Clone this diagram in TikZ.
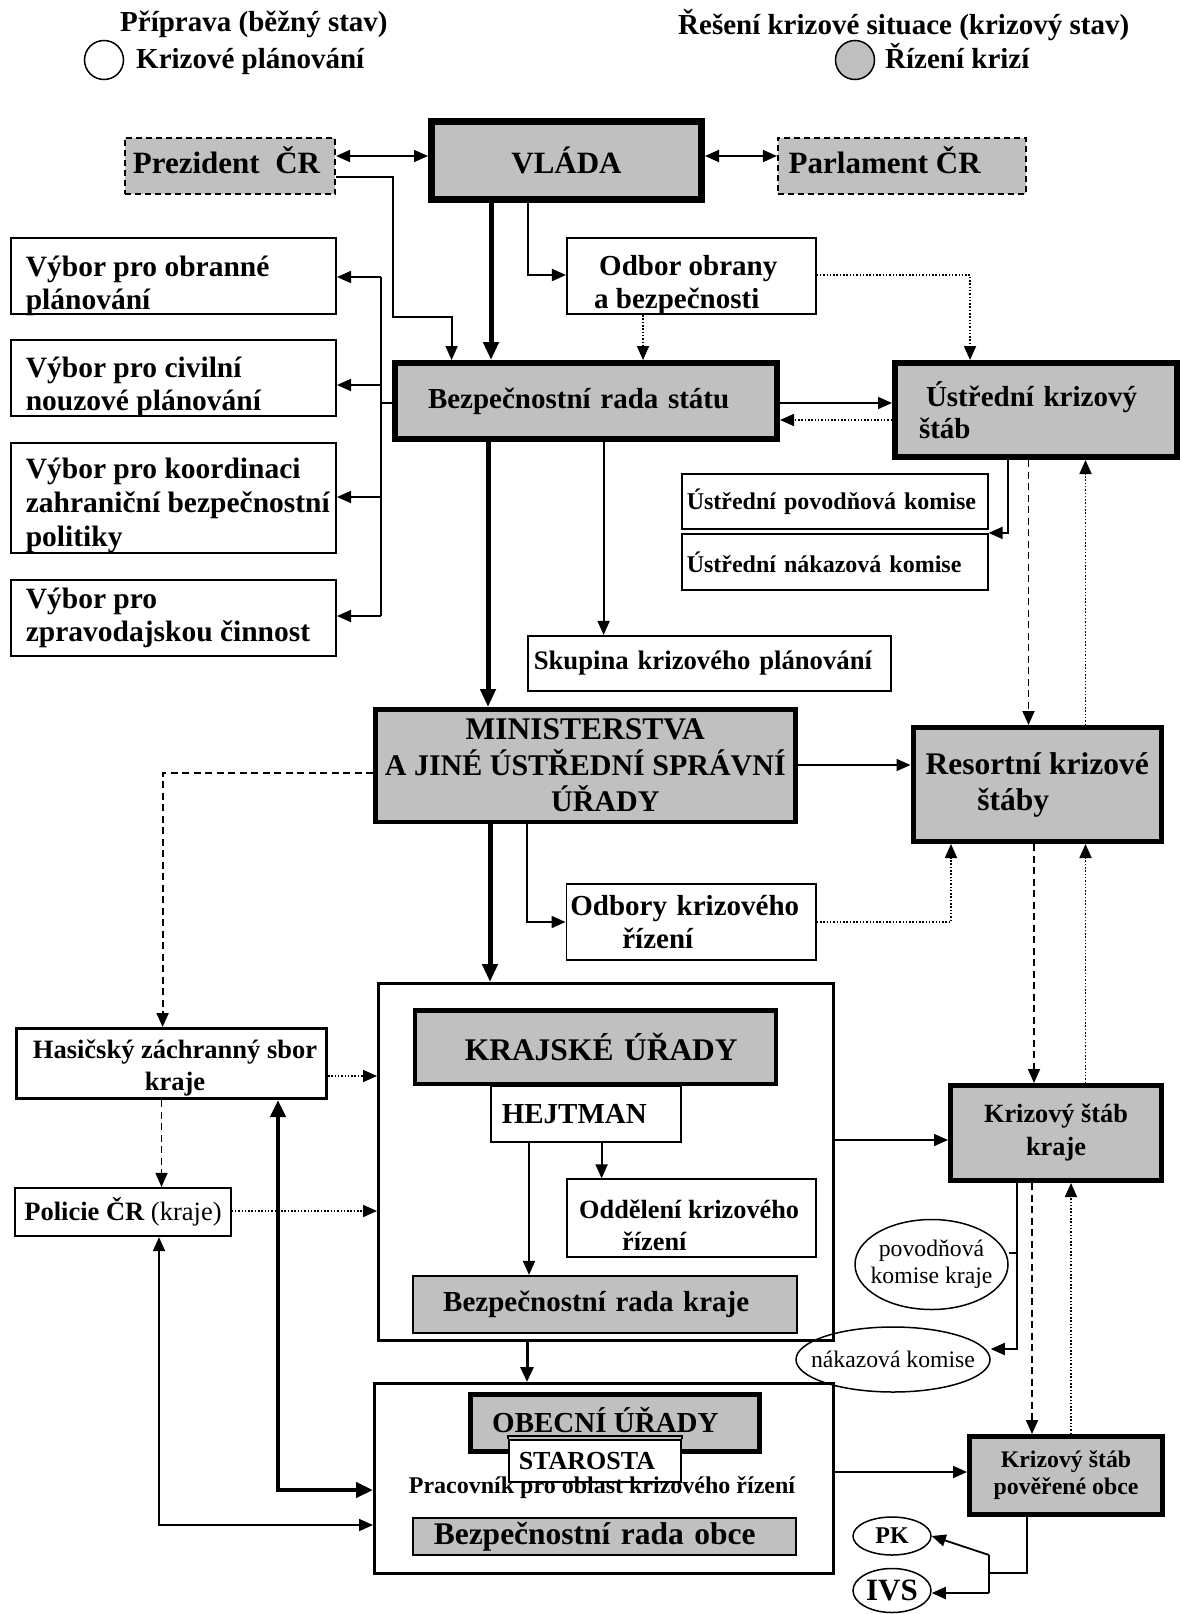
\documentclass[tikz,border=0pt]{standalone}
\usepackage{fontspec}
\setmainfont{Liberation Serif}
\usetikzlibrary{arrows.meta,shapes.geometric,calc}
\definecolor{boxgray}{RGB}{192,192,192}
\newcommand\fsz[2]{\fontsize{#1pt}{#2pt}\selectfont\bfseries}
\newcommand\fszr[2]{\fontsize{#1pt}{#2pt}\selectfont\mdseries}
\hyphenpenalty=10000
\exhyphenpenalty=10000
\tikzset{
  box/.style={draw, rectangle, inner xsep=0pt, inner ysep=0pt, line width=1.7pt, fill=white},
  gbox/.style={box, fill=boxgray},
  dashbox/.style={dash pattern=on 6pt off 4pt},
  txt/.style={inner sep=0pt},
  ell/.style={draw, ellipse, line width=1.5pt, inner xsep=-20pt, inner ysep=0pt, align=center},
  ln/.style={line width=1.8pt},
  conn/.style={line width=1.8pt, -{Triangle[length=14pt,width=12pt]}},
  conn2/.style={line width=1.8pt, {Triangle[length=14pt,width=12pt]}-{Triangle[length=14pt,width=12pt]}},
  thk/.style={line width=5pt, -{Triangle[length=18pt,width=15pt]}},
  thkboth/.style={line width=4.5pt, {Triangle[length=17pt,width=15pt]}-{Triangle[length=17pt,width=15pt]}},
  thkmid/.style={line width=3pt, -{Triangle[length=15pt,width=13pt]}},
  dashln/.style={dash pattern=on 7pt off 4.5pt},
  dotln/.style={dash pattern=on 1.5pt off 1.8pt},
  hdr/.style={anchor=base west, inner sep=0pt, font=\fsz{29}{34}}
}
\begin{document}
\begin{tikzpicture}[x=1pt,y=-1pt]
\useasboundingbox (0,0) rectangle (1181,1614);
\fill[white] (0,0) rectangle (1181,1614);

% ---------- header ----------
\node[hdr] (hA) at (120,31) {Příprava (běžný stav)};
\node[draw, circle, line width=1.5pt, minimum size=39pt, inner sep=0pt] (cA) at (104,60) {};
\node[hdr] (hB) at (136,68) {Krizové plánování};
\node[hdr] (hC) at (678,34) {Řešení krizové situace (krizový stav)};
\node[draw, circle, fill=boxgray, line width=1.5pt, minimum size=39pt, inner sep=0pt] (cB) at (855,60) {};
\node[hdr] (hD) at (885,68) {Řízení krizí};

% ---------- top level ----------
\node[gbox, dashbox, minimum width=210.5pt, minimum height=56.5pt] (prez) at (230,166) {};
\node[txt, font=\fsz{31}{36}] (prezT) at (226.5,160) {Prezident\ \ ČR};
\node[gbox, line width=7pt, minimum width=270pt, minimum height=78pt, font=\fsz{31}{36}] (vlada) at (566.5,160.5) {VLÁDA};
\node[gbox, dashbox, minimum width=248pt, minimum height=56.5pt] (parl) at (901.75,166) {};
\node[txt, anchor=west, font=\fsz{31}{36}] (parlT) at (788.5,160) {Parlament ČR};

% ---------- committees ----------
\node[box, line width=2pt, minimum width=325.4pt, minimum height=76pt] (vyb1) at (173.3,276) {};
\node[txt, anchor=west, align=left, font=\fsz{29.5}{33.5}] (vyb1T) at (25.6,286) {Výbor pro obranné\\plánování};
\node[box, line width=2pt, minimum width=325.4pt, minimum height=76pt] (vyb2) at (173.3,378) {};
\node[txt, anchor=west, align=left, font=\fsz{29.5}{33.5}] (vyb2T) at (25.6,387) {Výbor pro civilní\\nouzové plánování};
\node[box, line width=2pt, minimum width=325.4pt, minimum height=110pt] (vyb3) at (173.3,498) {};
\node[txt, anchor=west, align=left, font=\fsz{29.5}{34}] (vyb3T) at (25.6,505) {Výbor pro koordinaci\\zahraniční bezpečnostní\\politiky};
\node[box, line width=2pt, minimum width=325.4pt, minimum height=76pt] (vyb4) at (173.3,618) {};
\node[txt, anchor=west, align=left, font=\fsz{29.5}{33.5}] (vyb4T) at (25.6,618) {Výbor pro\\zpravodajskou činnost};

\node[box, minimum width=249pt, minimum height=76.5pt] (odbor) at (691.3,276) {};
\node[txt, anchor=west, align=left, font=\fsz{29}{33}] (odborT) at (594,285) {\rule{5pt}{0pt}Odbor obrany\\a bezpečnosti};
\node[gbox, line width=6pt, minimum width=382pt, minimum height=76pt, text width=316pt, align=left, font=\fsz{29}{34}] (brs) at (586,401) {Bezpečnostní rada státu};
\node[gbox, line width=6pt, minimum width=282pt, minimum height=94pt, text width=220pt, align=left, font=\fsz{29}{32}] (uks) at (1036,410) {Ústřední krizový\\\hspace*{-7pt}štáb};
\node[box, minimum width=306pt, minimum height=55.5pt, text width=296pt, align=left, font=\fsz{24}{28}] (upk) at (834.75,501.5) {Ústřední povodňová komise};
\node[box, minimum width=306pt, minimum height=56.5pt, text width=296pt, align=left, font=\fsz{24}{28}] (unk) at (834.75,562) {Ústřední nákazová komise};
\node[box, minimum width=363.5pt, minimum height=55.5pt, text width=351.5pt, align=left, font=\fsz{26.7}{31}] (skup) at (709.5,663.5) {Skupina krizového plánování};

% ---------- ministries ----------
\node[gbox, line width=4.5pt, minimum width=420pt, minimum height=112.5pt, align=center, font=\fsz{30}{36}] (minis) at (585.3,765.5) {{\fontsize{31.5}{36}\selectfont MINISTERSTVA}\\A JINÉ ÚSTŘEDNÍ SPRÁVNÍ\\\rule{40pt}{0pt}ÚŘADY};
\node[gbox, line width=5pt, minimum width=248.5pt, minimum height=114pt, align=center, font=\fsz{31.5}{36}] (res) at (1037.25,784.5) {Resortní krizové\\štáby\hspace*{48pt}};
\node[box, minimum width=249.5pt, minimum height=76.5pt, text width=241.5pt, align=left, font=\fsz{29}{33}] (odbory) at (691.1,922) {Odbory krizového\\\hspace*{52pt}řízení};

% ---------- regions ----------
\node[box, line width=3pt, minimum width=455pt, minimum height=357pt] (krajout) at (606,1162) {};
\node[box, minimum width=190.5pt, minimum height=56pt, text width=168.5pt, align=left, font=\fsz{29}{33}] (hejtman) at (586,1114) {HEJTMAN};
\node[gbox, line width=4.5pt, minimum width=361pt, minimum height=73.5pt, text width=261pt, align=left, font=\fsz{31.5}{36}] (krajske) at (595.25,1047) {\mbox{KRAJSKÉ ÚŘADY}};
\node[box, minimum width=249pt, minimum height=77.5pt] (odd) at (691.3,1218) {};
\node[txt, anchor=west, align=left, font=\fsz{26.3}{32}] (oddT) at (579,1225) {Oddělení krizového\\\rule{43pt}{0pt}řízení};
\node[gbox, minimum width=383.6pt, minimum height=57.5pt, text width=323.6pt, align=left, font=\fsz{29}{34}] (brk) at (605,1304.5) {Bezpečnostní rada kraje};

\node[box, line width=3pt, minimum width=310.5pt, minimum height=70pt] (hasic) at (171.25,1063.5) {};
\node[txt, align=center, font=\fsz{26.5}{32}] (hasicT) at (175,1068) {Hasičský záchranný sbor\\kraje};
\node[box, minimum width=215.5pt, minimum height=48.5pt, font=\fsz{26.5}{31}] (policie) at (123,1212) {Policie ČR {\mdseries(kraje)}};

\node[gbox, line width=5pt, minimum width=211pt, minimum height=95pt, align=center, font=\fsz{26.3}{33}] (kskraje) at (1056,1133) {Krizový štáb\\kraje};

% ---------- municipalities ----------
\node[box, line width=3pt, minimum width=459pt, minimum height=190pt] (obecout) at (604,1478.5) {};
\node[gbox, line width=5pt, minimum width=289pt, minimum height=57pt] (obecni) at (615,1423) {};
\node[txt, anchor=base west, font=\fsz{29}{34}] (obecniT) at (492,1432) {OBECNÍ ÚŘADY};
\node[box, minimum width=172.5pt, minimum height=42.5pt, text width=152.5pt, align=left, font=\fsz{26}{30}] (starosta) at (595,1461) {STAROSTA};
\draw[line width=1.3pt] (starosta.north west) -- ++(0,-3) -- ([yshift=3pt]starosta.north east) -- (starosta.north east);
\node[txt, font=\fsz{24}{28}] (pracovnik) at (602,1488) {Pracovník pro oblast krizového řízení};
\node[gbox, minimum width=383.5pt, minimum height=37.5pt, text width=341.5pt, align=left, font=\fsz{31.5}{36}] (bro) at (604.5,1536.5) {Bezpečnostní rada obce};
\node[gbox, line width=5pt, minimum width=193pt, minimum height=78pt, align=center, font=\fsz{23.8}{27}] (kspo) at (1066,1475.5) {Krizový štáb\\pověřené obce};

% ---------- ellipses ----------
\node[ell, fill=white, minimum width=153pt, minimum height=90pt, font=\fszr{23.7}{27}] (povod) at (931.5,1264.5) {povodňová\\komise kraje};
\node[ell, minimum width=194pt, minimum height=65pt, font=\fszr{23.7}{27}] (nakaz) at (893,1359.5) {nákazová komise};
\node[ell, fill=white, minimum width=78pt, minimum height=38pt, font=\fsz{24}{28}] (pk) at (892,1536) {PK};
\node[ell, fill=white, minimum width=78pt, minimum height=44pt, font=\fsz{31}{34}] (ivs) at (892,1590.5) {IVS};

% ---------- connectors ----------
\draw[conn2] (prez.east |- 0,156) -- (vlada.west |- 0,156);
\draw[conn2] (vlada.east |- 0,156) -- (parl.west |- 0,156);
\draw[conn] (prez.east |- 0,177) -| (393,317) -| (brs.north -| 451.6,0);
\draw[thk] (vlada.south -| 491,0) -- (brs.north -| 491,0);
\draw[conn] (vlada.south -| 528,0) |- (odbor.west |- 0,275);
\draw[conn, dotln] (odbor.south -| 643,0) -- (brs.north -| 643,0);
\draw[conn, dotln] (odbor.east |- 0,275) -| (uks.north -| 970,0);
\draw[conn] (brs.east |- 0,403) -- (uks.west |- 0,403);
\draw[conn, dotln] (uks.west |- 0,420) -- (brs.east |- 0,420);

\coordinate (busT) at (381,277);
\coordinate (busB) at (381,616);
\draw[ln] (brs.west |- 0,403) -- (381,403);
\draw[ln] (busT) -- (busB);
\draw[conn] (busT) -- (vyb1.east |- busT);
\draw[conn] (381,385) -- (vyb2.east |- 0,385);
\draw[conn] (381,497) -- (vyb3.east |- 0,497);
\draw[conn] (busB) -- (vyb4.east |- busB);

\draw[thk] (brs.south -| 488,0) -- (minis.north -| 488,0);
\draw[conn] (brs.south -| 603.6,0) -- (skup.north -| 603.6,0);
\draw[conn] (uks.south -| 1008,0) |- (unk.north east);
\draw[conn, dashln] (uks.south -| 1028.5,0) -- (res.north -| 1028.5,0);
\draw[conn, dotln] (res.north -| 1085.5,0) -- (uks.south -| 1085.5,0);

\draw[conn] (minis.east |- 0,765) -- (res.west |- 0,765);
\draw[conn, dashln] (minis.west |- 0,773) -| (hasic.north -| 162.6,0);
\draw[thk] (minis.south -| 490,0) -- (krajout.north -| 490,0);
\draw[conn] (minis.south -| 527,0) |- (odbory.west |- 0,922);
\draw[conn, dotln] (odbory.east |- 0,922) -| (res.south -| 951,0);
\draw[conn, dashln] (res.south -| 1034,0) -- (kskraje.north -| 1034,0);
\draw[conn, dotln] (kskraje.north -| 1085.5,0) -- (res.south -| 1085.5,0);

\draw[conn, dotln] (hasic.east |- 0,1076) -- (krajout.west |- 0,1076);
\draw[conn, dashln] (hasic.south -| 161.5,0) -- (policie.north -| 161.5,0);
\draw[conn, dotln] (policie.east |- 0,1211) -- (krajout.west |- 0,1211);
\draw[thkboth] (hasic.south -| 278,0) |- (obecout.west |- 0,1490);
\draw[conn2] (policie.south -| 159,0) |- (obecout.west |- 0,1525);

\draw[conn] (hejtman.south -| 601.6,0) -- (odd.north -| 601.6,0);
\draw[conn] (hejtman.south -| 529,0) -- (brk.north -| 529,0);
\draw[conn] (krajout.east |- 0,1140) -- (kskraje.west |- 0,1140);
\draw[thkmid] (krajout.south -| 527,0) -- (obecout.north -| 527,0);

\draw[conn] (kskraje.south -| 1017,0) |- (nakaz.east |- 0,1349);
\coordinate (pj) at (1017,1253);
\draw[ln] (pj) -- (povod.east |- pj);
\draw[conn, dashln] (kskraje.south -| 1032,0) -- (kspo.north -| 1032,0);
\draw[conn, dotln] (kspo.north -| 1071,0) -- (kskraje.south -| 1071,0);
\draw[conn] (obecout.east |- 0,1472) -- (kspo.west |- 0,1472);

\coordinate (kjm) at (989,1573);
\coordinate (kj1) at (989,1555);
\coordinate (kj2) at (989,1593);
\draw[ln] (kspo.south -| 1027,0) |- (kjm);
\draw[ln] (kj1) -- (kj2);
\draw[conn] (kj1) -- (pk.east);
\draw[conn] (kj2) -- (ivs.east |- kj2);
\end{tikzpicture}
\end{document}
